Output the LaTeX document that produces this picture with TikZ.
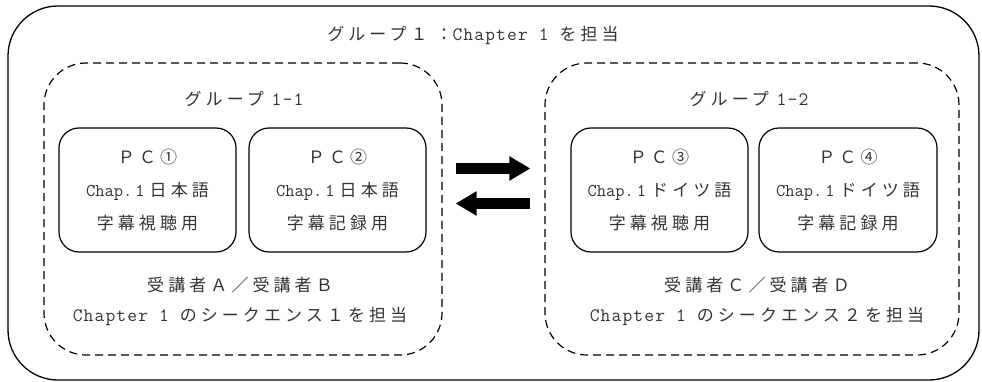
\documentclass[tikz,border=0pt]{standalone}
\usepackage{fontspec}
\setmainfont{Noto Sans CJK JP}[LetterSpace=24]
\newfontfamily\latf{Latin Modern Mono}[LetterSpace=6]
\newfontfamily\latc{Latin Modern Mono}
\usetikzlibrary{arrows.meta}
\newcommand\lm[1]{{\latf\fontsize{19}{19}\selectfont #1}}
\newcommand\lmc[1]{{\latc\fontsize{18}{18}\selectfont #1}\hspace{5pt}}
\definecolor{txt}{HTML}{333333}
\tikzset{
  outerbox/.style={draw=black, line width=1.3pt, rounded corners=50pt, minimum width=971pt, minimum height=374pt, inner sep=0pt},
  groupbox/.style={draw=black, line width=1.2pt, dash pattern=on 8pt off 5pt, rounded corners=42pt, minimum height=292pt, inner sep=0pt},
  pcbox/.style={draw=black, line width=1.2pt, rounded corners=20pt, minimum width=177pt, minimum height=124pt, inner sep=0pt,
    text=txt, font=\fontsize{17}{33}\selectfont, align=center},
  lbl/.style={text=txt, font=\fontsize{17}{30}\selectfont, inner sep=0pt, align=center},
  bigarrow/.style={line width=11pt, -{Triangle[length=21pt,width=23pt]}, draw=black}
}
\begin{document}
\begin{tikzpicture}[x=1pt,y=1pt]
\useasboundingbox (0,0) rectangle (982,381);
\node[outerbox] (outer) at (493.5,188) {};
\node[lbl] (title) at (473,346) {グループ１ ：\lm{Chapter 1 }を担当};
\node[groupbox, minimum width=398pt] (g1) at (243,172) {};
\node[groupbox, minimum width=414pt] (g2) at (752,172) {};
\node[lbl] (g1t) at (244,282) {グループ \lm{1-1}};
\node[lbl] (g2t) at (749,282) {グループ \lm{1-2}};
\node[pcbox] (pc1) at (147.5,191) {ＰＣ①\\\lmc{Chap.\,1}日本語\\字幕視聴用};
\node[pcbox] (pc2) at (337.5,191) {ＰＣ②\\\lmc{Chap.\,1}日本語\\字幕記録用};
\node[pcbox] (pc3) at (659.5,191) {ＰＣ③\\\lmc{Chap.\,1}ドイツ語\\字幕視聴用};
\node[pcbox, minimum width=178pt] (pc4) at (848,191) {ＰＣ④\\\lmc{Chap.\,1}ドイツ語\\字幕記録用};
\node[lbl] (g1b) at (240,80) {受講者Ａ／受講者Ｂ\\\lm{Chapter 1 }のシークエンス１を担当};
\node[lbl] (g2b) at (757,80) {受講者Ｃ／受講者Ｄ\\\lm{Chapter 1 }のシークエンス２を担当};
\draw[bigarrow, shorten <=13pt, shorten >=14pt] ([yshift=40.5pt]g1.east) -- ([yshift=40.5pt]g2.west);
\draw[bigarrow, shorten <=14pt, shorten >=13pt] ([yshift=5.5pt]g2.west) -- ([yshift=5.5pt]g1.east);
\end{tikzpicture}
\end{document}
